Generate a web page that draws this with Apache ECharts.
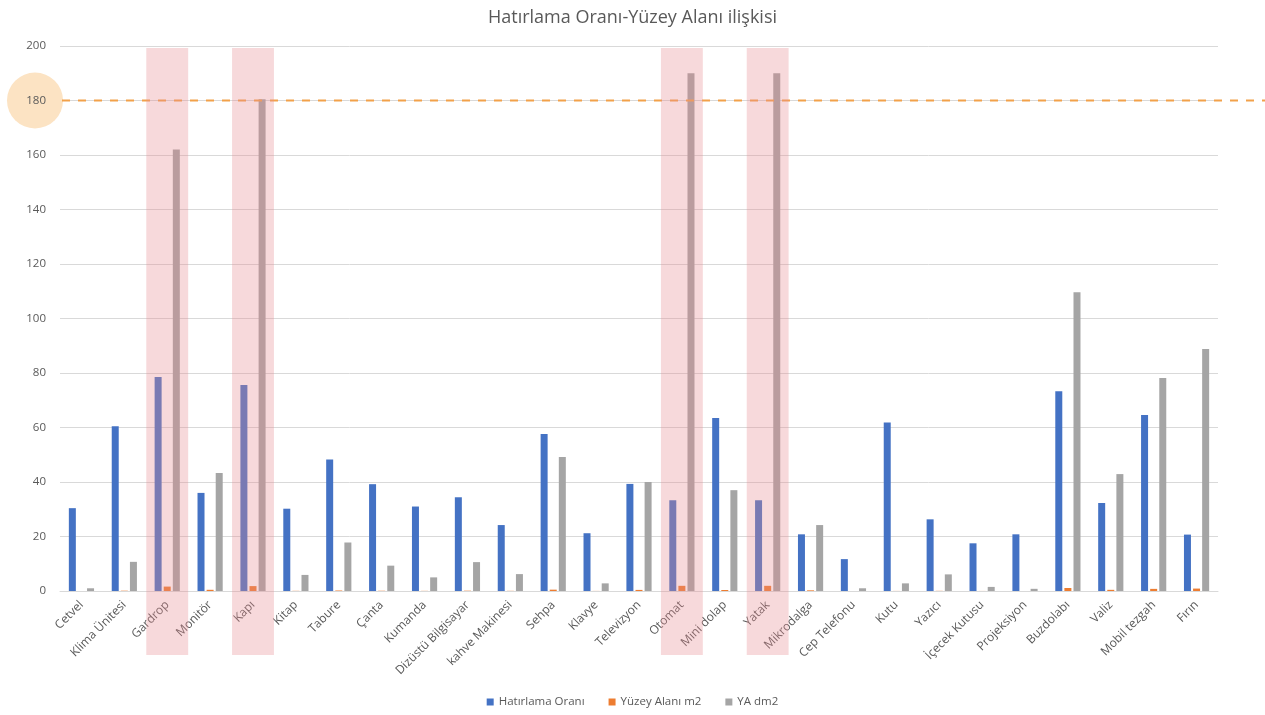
<!DOCTYPE html>
<html>
<head>
<meta charset="utf-8">
<script src="https://cdn.jsdelivr.net/npm/echarts@6/dist/echarts.min.js"></script>
<style>
  html, body { margin: 0; padding: 0; background: #fff; }
  #chart { width: 1265px; height: 715px; }
</style>
</head>
<body>
<div id="chart"></div>
<script>
const categories = ['Cetvel', 'Klima Ünitesi', 'Gardrop', 'Monitör', 'Kapı', 'Kitap', 'Tabure', 'Çanta', 'Kumanda',
  'Dizüstü Bilgisayar', 'kahve Makinesi', 'Sehpa', 'Klavye', 'Televizyon', 'Otomat', 'Mini dolap', 'Yatak',
  'Mikrodalga', 'Cep Telefonu', 'Kutu', 'Yazıcı', 'İçecek Kutusu', 'Projeksiyon', 'Buzdolabı', 'Valiz',
  'Mobil tezgah', 'Fırın'];
const hatirlamaOrani = [30.4, 60.5, 78.5, 36, 75.6, 30.2, 48.3, 39.2, 31, 34.4, 24.2, 57.6, 21.2, 39.3, 33.3, 63.5, 33.3,
  20.8, 11.7, 61.8, 26.3, 17.5, 20.8, 73.3, 32.3, 64.6, 20.7];
const yuzeyAlaniM2 = [0.01, 0.11, 1.62, 0.44, 1.8, 0.06, 0.18, 0.09, 0.05, 0.11, 0.06, 0.49, 0.03, 0.4, 1.9, 0.37, 1.9,
  0.24, 0.01, 0.03, 0.06, 0.02, 0.01, 1.1, 0.43, 0.78, 0.89];
const yaDm2 = [1, 10.7, 162, 43.3, 180.5, 5.9, 17.8, 9.3, 5, 10.6, 6.2, 49.2, 2.8, 40, 190, 37, 190,
  24.2, 1, 2.8, 6.1, 1.5, 0.8, 109.6, 42.9, 78.2, 88.8];
const yTicks = [0, 20, 40, 60, 80, 100, 120, 140, 160, 180, 200];
const highlighted = ['Gardrop', 'Kapı', 'Otomat', 'Yatak'];
const referenceValue = 180;

const textColor = '#595959';
const font = '"Open Sans", "Noto Sans", sans-serif';

const chart = echarts.init(document.getElementById('chart'));

chart.setOption({
  animation: false,
  backgroundColor: '#ffffff',
  title: {
    text: 'Hatırlama Oranı-Yüzey Alanı ilişkisi',
    left: 'center',
    top: 4,
    textStyle: { fontFamily: font, fontSize: 18, fontWeight: 'normal', color: textColor }
  },
  legend: {
    bottom: 2,
    left: 'center',
    itemWidth: 7,
    itemHeight: 7,
    itemGap: 24,
    icon: 'rect',
    textStyle: { fontFamily: font, fontSize: 11.5, color: textColor },
    data: ['Hatırlama Oranı', 'Yüzey Alanı m2', 'YA dm2']
  },
  grid: { left: 60, right: 47, top: 46, bottom: 124, containLabel: false },
  xAxis: {
    type: 'category',
    data: categories,
    axisLine: { lineStyle: { color: '#d9d9d9' } },
    axisTick: { show: false },
    axisLabel: {
      interval: 0,
      rotate: 45,
      margin: 12,
      fontFamily: font,
      fontSize: 12,
      color: textColor
    }
  },
  yAxis: {
    type: 'value',
    min: yTicks[0],
    max: yTicks[yTicks.length - 1],
    interval: yTicks[1] - yTicks[0],
    axisLine: { show: false },
    axisTick: { show: false },
    splitLine: { lineStyle: { color: '#d9d9d9', width: 1 } },
    axisLabel: { fontFamily: font, fontSize: 11.5, color: textColor, margin: 14 }
  },
  series: [
    { name: 'Hatırlama Oranı', type: 'bar', data: hatirlamaOrani, barWidth: 7, barGap: '30%', itemStyle: { color: '#4472C4' } },
    { name: 'Yüzey Alanı m2', type: 'bar', data: yuzeyAlaniM2, barWidth: 7, barGap: '30%', itemStyle: { color: '#ED7D31' } },
    { name: 'YA dm2', type: 'bar', data: yaDm2, barWidth: 7, barGap: '30%', itemStyle: { color: '#A5A5A5' } }
  ]
});

// Overlays: reference line at 180 with a badge on the axis, and highlight bands on selected categories
function drawOverlays() {
  const width = chart.getWidth();
  const yRef = chart.convertToPixel({ yAxisIndex: 0 }, referenceValue);
  const yTop = chart.convertToPixel({ yAxisIndex: 0 }, yTicks[yTicks.length - 1]);
  const yZero = chart.convertToPixel({ yAxisIndex: 0 }, 0);
  const xFirst = chart.convertToPixel({ xAxisIndex: 0 }, categories[0]);
  const xSecond = chart.convertToPixel({ xAxisIndex: 0 }, categories[1]);
  const band = xSecond - xFirst;
  const gridLeft = xFirst - band / 2;

  const elements = [
    {
      type: 'circle',
      shape: { cx: 35, cy: yRef, r: 28 },
      style: { fill: '#FCE3C3' },
      z: 1
    },
    {
      type: 'text',
      x: 46, y: yRef,
      style: { text: String(referenceValue), fill: textColor, font: '11.5px ' + font, textAlign: 'right', textVerticalAlign: 'middle' },
      z: 2
    },
    {
      type: 'line',
      shape: { x1: gridLeft + 2, y1: yRef, x2: width, y2: yRef },
      style: { stroke: '#F2A14A', lineWidth: 2, lineDash: [8, 8] },
      z: 50
    }
  ];

  highlighted.forEach(function (name) {
    const cx = chart.convertToPixel({ xAxisIndex: 0 }, name);
    elements.push({
      type: 'rect',
      shape: { x: cx - band / 2 + 0.5, y: yTop + 2, width: band - 1, height: (yZero - yTop) + 62 },
      style: { fill: 'rgba(232, 140, 145, 0.33)' },
      z: 100
    });
  });

  chart.setOption({ graphic: { elements: elements } });
}

drawOverlays();
</script>
</body>
</html>
